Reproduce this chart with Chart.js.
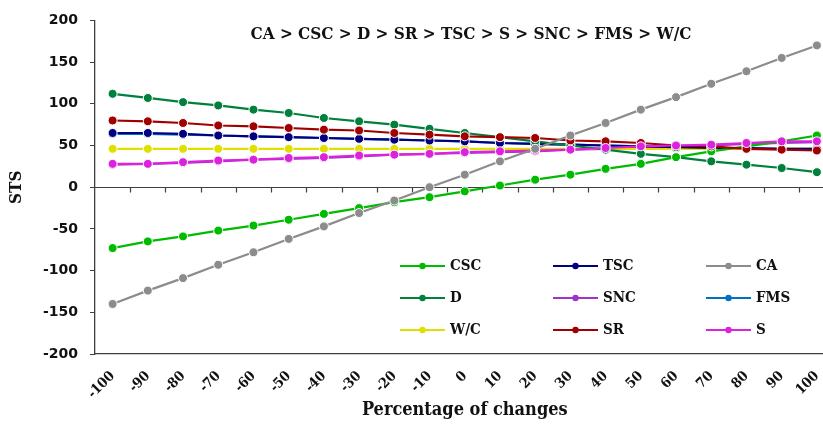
<!DOCTYPE html>
<html>
<head>
<meta charset="utf-8">
<script src="https://cdn.jsdelivr.net/npm/chart.js@4.4.1/dist/chart.umd.min.js"></script>
<style>
  html, body { margin: 0; padding: 0; background: #fff; overflow: hidden; }
  canvas { display: block; }
</style>
</head>
<body>
<canvas id="stsChart" width="840" height="428"></canvas>
<script>
// percentage of change (x categories)
const changes = ["-100", "-90", "-80", "-70", "-60", "-50", "-40", "-30", "-20", "-10", "0",
                 "10", "20", "30", "40", "50", "60", "70", "80", "90", "100"];

// STS values
const csc = [-73, -65, -59, -52, -46, -39, -32, -25, -18, -12, -5, 2, 9, 15, 22, 28, 36, 43, 49, 55, 62];
const dVals = [112, 107, 102, 98, 93, 89, 83, 79, 75, 70, 65, 60, 55, 50, 45, 40, 36, 31, 27, 23, 18];
const wc = [46, 46, 46, 46, 46, 46, 46, 46, 46, 46, 46, 46, 46, 46, 46, 46, 46, 46, 46, 46, 46];
const tsc = [65, 65, 64, 62, 61, 60, 59, 58, 57, 56, 55, 53, 52, 51, 50, 49, 48, 47, 47, 46, 46];
const snc = [27, 28, 29, 31, 33, 34, 35, 37, 39, 40, 41, 42, 43, 45, 46, 48, 49, 50, 52, 53, 54];
const sr = [80, 79, 77, 74, 73, 71, 69, 68, 65, 63, 61, 60, 59, 56, 55, 53, 50, 49, 46, 45, 44];
const ca = [-140, -124, -109, -93, -78, -62, -47, -31, -16, 0, 15, 31, 46, 62, 77, 93, 108, 124, 139, 155, 170];
const fms = [64, 64, 63, 62, 61, 60, 59, 58, 57, 56, 55, 53, 52, 51, 50, 49, 48, 47, 47, 46, 46];
const sVals = [28, 28, 30, 32, 33, 35, 36, 38, 39, 40, 42, 43, 44, 45, 47, 49, 50, 51, 53, 55, 55];

const yTicks = [-200, -150, -100, -50, 0, 50, 100, 150, 200];
const ranking = "CA > CSC > D > SR > TSC > S > SNC > FMS > W/C";

const serif = "'DejaVu Serif Condensed', 'DejaVu Serif', serif";
const axisColor = "#404040";

// draw order: first one ends on top
const series = [
  { label: "CA", data: ca, color: "#8C8C8C" },
  { label: "S", data: sVals, color: "#DD22DD" },
  { label: "SR", data: sr, color: "#A00000" },
  { label: "CSC", data: csc, color: "#00BB00" },
  { label: "D", data: dVals, color: "#00803C" },
  { label: "TSC", data: tsc, color: "#000080" },
  { label: "W/C", data: wc, color: "#E0E000" },
  { label: "SNC", data: snc, color: "#A033CC" },
  { label: "FMS", data: fms, color: "#0070C0" },
];

// legend grid, row by row
const legendOrder = ["CSC", "TSC", "CA", "D", "SNC", "FMS", "W/C", "SR", "S"];

const extras = {
  id: "extras",
  beforeDatasetsDraw(chart) {
    const { ctx, chartArea, scales: { y } } = chart;
    const y0 = Math.round(y.getPixelForValue(0)) + 0.5;
    const step = (chartArea.right - chartArea.left) / changes.length;
    ctx.save();
    ctx.strokeStyle = axisColor;
    ctx.lineWidth = 1.2;
    ctx.beginPath();
    ctx.moveTo(chartArea.left, y0);
    ctx.lineTo(chartArea.right, y0);
    for (let i = 1; i <= changes.length; i++) {
      const px = Math.round(chartArea.left + i * step) + 0.5;
      ctx.moveTo(px, y0);
      ctx.lineTo(px, y0 + 5);
    }
    ctx.stroke();
    ctx.restore();
  },
  afterDraw(chart) {
    const ctx = chart.ctx;
    ctx.save();
    // ranking note
    ctx.fillStyle = "#111";
    ctx.font = "bold 17px " + serif;
    ctx.textAlign = "center";
    ctx.textBaseline = "middle";
    ctx.fillText(ranking, 471, 35);

    // legend
    ctx.font = "bold 15px " + serif;
    ctx.textAlign = "left";
    const cols = [400, 553, 706];
    const rows = [266, 298, 330];
    legendOrder.forEach((name, i) => {
      const s = series.find((d) => d.label === name);
      const lx = cols[i % 3];
      const ly = rows[Math.floor(i / 3)];
      ctx.strokeStyle = s.color;
      ctx.lineWidth = 2;
      ctx.beginPath();
      ctx.moveTo(lx, ly);
      ctx.lineTo(lx + 45, ly);
      ctx.stroke();
      ctx.fillStyle = s.color;
      ctx.beginPath();
      ctx.arc(lx + 22.5, ly, 3.2, 0, Math.PI * 2);
      ctx.fill();
      ctx.fillStyle = "#111";
      ctx.fillText(name, lx + 50, ly);
    });
    ctx.restore();
  },
};

new Chart(document.getElementById("stsChart").getContext("2d"), {
  type: "line",
  data: {
    labels: changes,
    datasets: series.map((s) => ({
      label: s.label,
      data: s.data,
      borderColor: s.color,
      backgroundColor: s.color,
      pointBackgroundColor: s.color,
      pointBorderColor: "#ffffff",
      pointBorderWidth: 1,
      pointRadius: 4.5,
      borderWidth: 2.2,
      tension: 0,
    })),
  },
  options: {
    responsive: false,
    animation: false,
    layout: { padding: { top: 15, right: 0, bottom: 0, left: 0 } },
    plugins: {
      legend: { display: false },
      tooltip: { enabled: false },
    },
    scales: {
      x: {
        offset: true,
        grid: { display: false },
        border: { display: true, color: axisColor, width: 1.3 },
        ticks: {
          minRotation: 45,
          maxRotation: 45,
          padding: 6,
          color: "#111",
          font: { family: serif, size: 14, weight: "bold" },
        },
        title: {
          display: true,
          text: "Percentage of changes",
          color: "#111",
          font: { family: serif, size: 18, weight: "bold" },
          padding: { top: 0, bottom: 7 },
        },
        afterFit(scale) { scale.height = 74; },
      },
      y: {
        min: -200,
        max: 200,
        afterBuildTicks(scale) { scale.ticks = yTicks.map((v) => ({ value: v })); },
        grid: { drawOnChartArea: false, drawTicks: true, tickLength: 5, color: axisColor },
        border: { display: true, color: axisColor, width: 1.3 },
        ticks: {
          padding: 12,
          color: "#111",
          font: { family: "'DejaVu Sans', sans-serif", size: 14, weight: "bold" },
        },
        title: {
          display: true,
          text: "STS",
          color: "#111",
          font: { family: serif, size: 17, weight: "bold" },
          padding: { top: 6, bottom: 0 },
        },
        afterFit(scale) { scale.width = 95; },
      },
    },
  },
  plugins: [extras],
});
</script>
</body>
</html>
